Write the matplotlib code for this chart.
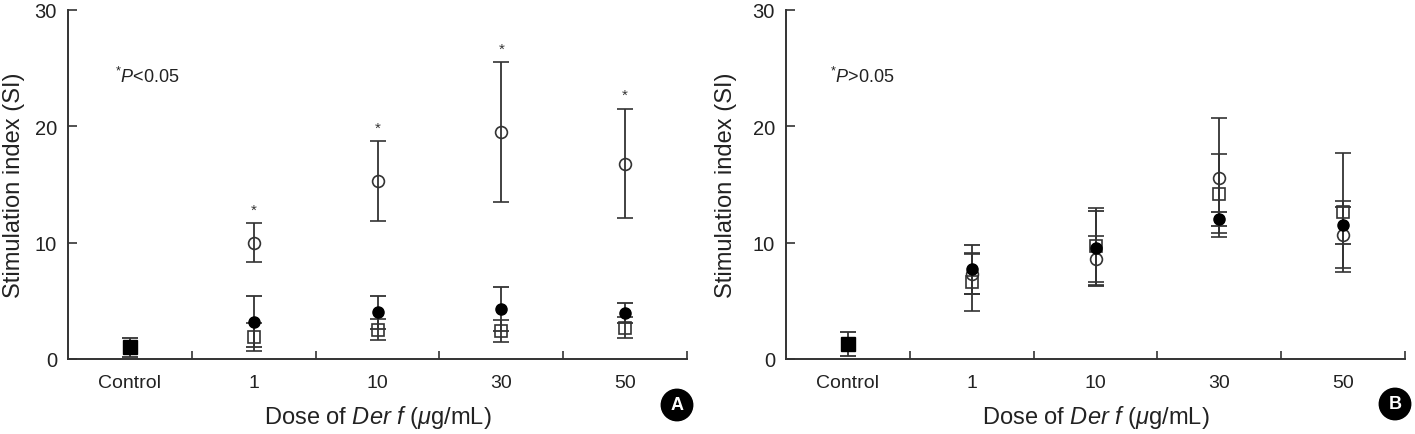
import matplotlib
matplotlib.use("Agg")
import matplotlib.pyplot as plt
import numpy as np

plt.rcParams['font.family'] = ['Liberation Sans', 'DejaVu Sans']
plt.rcParams['mathtext.fontset'] = 'custom'
plt.rcParams['mathtext.rm'] = 'Liberation Sans'
plt.rcParams['mathtext.it'] = 'Liberation Sans:italic'
plt.rcParams['mathtext.bf'] = 'Liberation Sans:bold'

# ---- data ----
categories = ["Control", "1", "10", "30", "50"]

# Panel A
A_control = 1.0
A_control_err = 0.8
A_open_circle = [10.0, 15.3, 19.5, 16.8]
A_open_circle_err = [1.65, 3.4, 6.0, 4.7]
A_filled_circle = [3.2, 4.0, 4.3, 3.95]
A_filled_circle_err = [2.2, 1.4, 1.9, 0.85]
A_open_square = [1.9, 2.5, 2.4, 2.7]
A_open_square_err = [1.2, 0.9, 0.95, 0.9]
A_significant = [True, True, True, True]

# Panel B
B_control = 1.3
B_control_err = 1.0
B_open_circle = [7.3, 8.6, 15.6, 10.7]
B_open_circle_err = [1.7, 2.0, 5.1, 2.9]
B_filled_circle = [7.7, 9.5, 12.0, 11.5]
B_filled_circle_err = [2.1, 3.2, 0.6, 1.6]
B_open_square = [6.6, 9.7, 14.2, 12.6]
B_open_square_err = [2.5, 3.3, 3.4, 5.1]

INK = '#333333'
W, H = 1415, 435
fig = plt.figure(figsize=(W / 100, H / 100), dpi=100)

def make_axes(left_px, right_px):
    return fig.add_axes([left_px / W, 1 - 360 / H, (right_px - left_px) / W, (360 - 11) / H])

def draw_panel(ax, ctrl, ctrl_err, oc, oc_err, fc, fc_err, sq, sq_err, note, letter, letter_xy,
               label_x, sig=None):
    x = np.arange(1, len(categories))
    ekw = dict(ecolor=INK, elinewidth=1.3, capsize=6, capthick=1.3, linestyle='none')
    ax.errorbar([0], [ctrl], yerr=[ctrl_err], fmt='s', ms=9.5, mfc='black', mec='black', zorder=3, **ekw)
    ax.errorbar(x, sq, yerr=sq_err, fmt='s', ms=8, mfc='none', mec=INK, mew=1.2, zorder=3, **ekw)
    ax.errorbar(x, oc, yerr=oc_err, fmt='o', ms=8.5, mfc='none', mec=INK, mew=1.2, zorder=3, **ekw)
    ax.errorbar(x, fc, yerr=fc_err, fmt='o', ms=8, mfc='black', mec='black', zorder=4, **ekw)
    if sig is not None:
        for xi, v, e, s in zip(x, oc, oc_err, sig):
            if s:
                ax.text(xi, v + e + 0.6, '*', ha='center', va='bottom', fontsize=11, color=INK)
    ax.set_xlim(-0.5, len(categories) - 0.5)
    ax.set_ylim(0, 30)
    ax.set_yticks([0, 10, 20, 30])
    ax.set_xticks(range(len(categories)))
    ax.set_xticklabels(categories)
    ax.set_xticks(np.arange(0.5, len(categories), 1.0), minor=True)
    ax.tick_params(axis='x', which='major', length=0, pad=11, labelsize=14, colors='#222222')
    ax.tick_params(axis='x', which='minor', direction='in', length=6, width=1.2, color=INK)
    ax.tick_params(axis='y', direction='in', length=6.5, width=1.2, color=INK, pad=8, labelsize=14.5, labelcolor='#222222')
    for s in ['top', 'right']:
        ax.spines[s].set_visible(False)
    for s in ['left', 'bottom']:
        ax.spines[s].set_color(INK)
        ax.spines[s].set_linewidth(1.4)
    ax.set_ylabel('Stimulation index (SI)', fontsize=17, color='#222222')
    ax.yaxis.set_label_coords(label_x, 0.5)
    ax.set_xlabel(r'Dose of $\it{Der\ f}$ ($\mu$g/mL)', fontsize=17, color='#222222')
    ax.xaxis.set_label_coords(0.5, -0.125)
    ax.text(note[1], note[2], note[0], fontsize=13, color='#222222', ha='left', va='baseline')
    fig.text(letter_xy[0] / W, 1 - letter_xy[1] / H, letter, color='white', fontsize=13, fontweight='bold',
             ha='center', va='center',
             bbox=dict(boxstyle='circle,pad=0.4', fc='black', ec='black'))

axA = make_axes(68, 687)
draw_panel(axA, A_control, A_control_err, A_open_circle, A_open_circle_err,
           A_filled_circle, A_filled_circle_err, A_open_square, A_open_square_err,
           (r'$^{*}P$<0.05', -0.12, 23.8), 'A', (677, 406), -0.069, sig=A_significant)

axB = make_axes(786, 1405)
draw_panel(axB, B_control, B_control_err, B_open_circle, B_open_circle_err,
           B_filled_circle, B_filled_circle_err, B_open_square, B_open_square_err,
           (r'$^{*}P$>0.05', -0.145, 23.8), 'B', (1395, 405), -0.079)

fig.savefig('out.png', dpi=100)
